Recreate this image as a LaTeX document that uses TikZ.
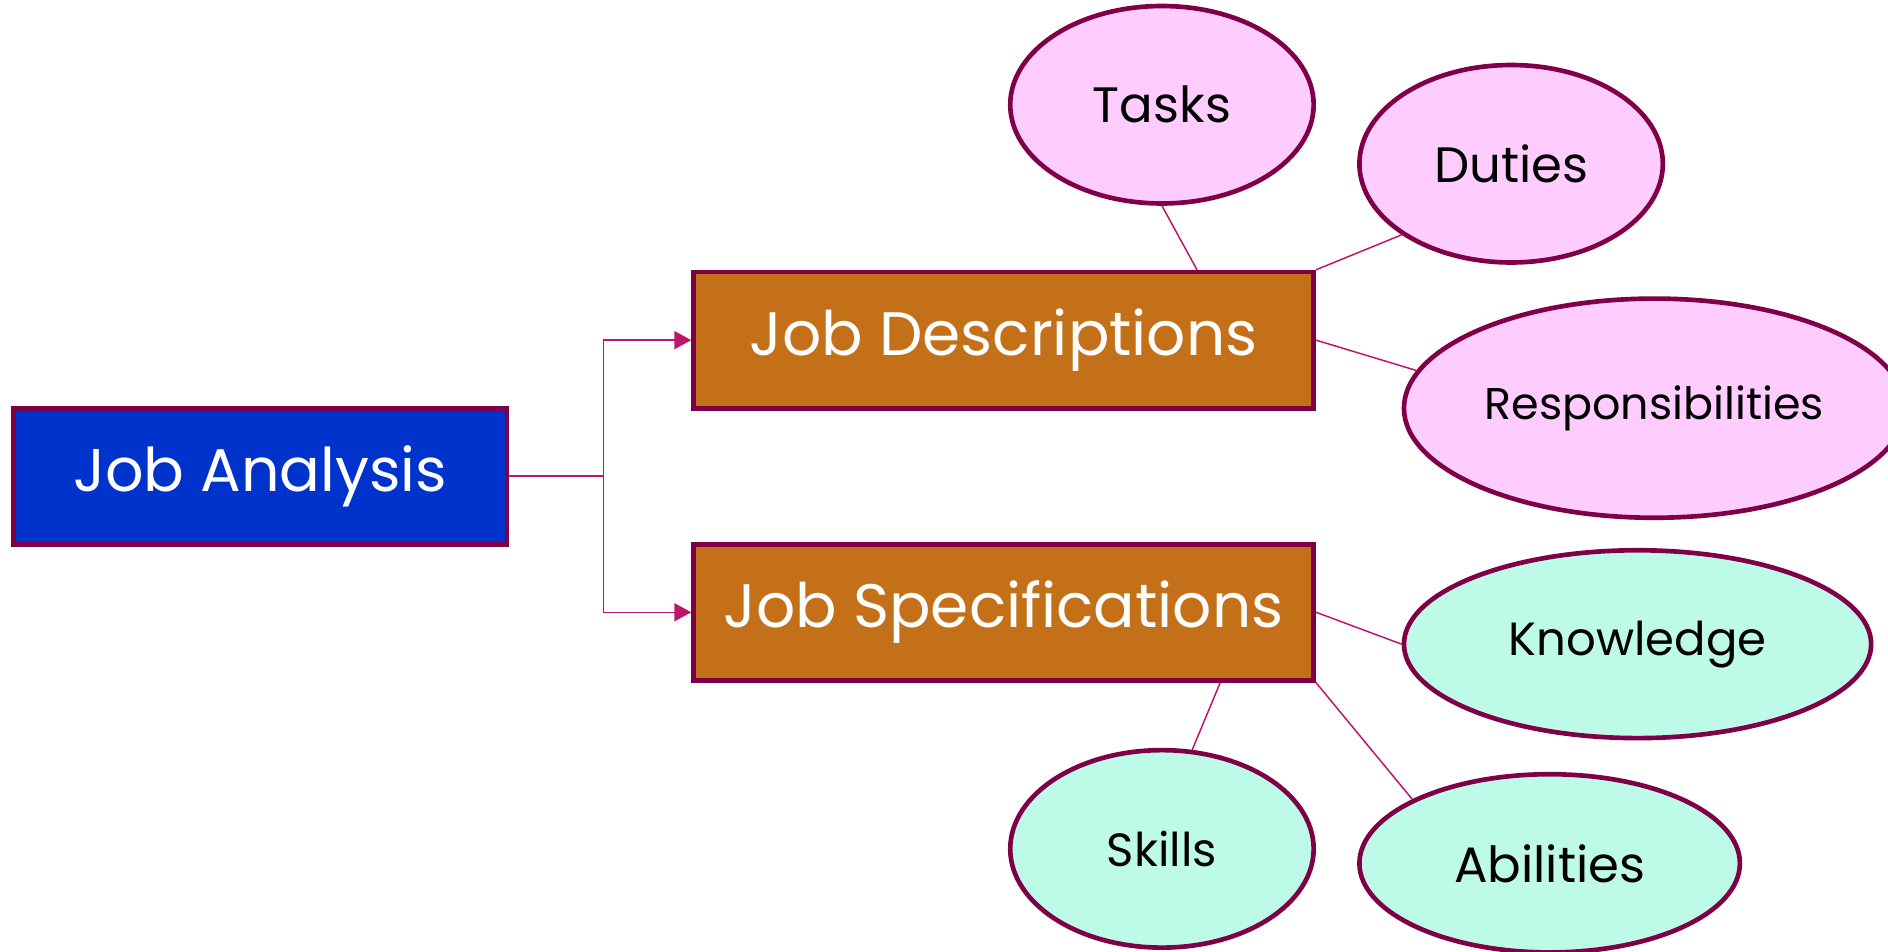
\documentclass[tikz,border=0pt]{standalone}
\usepackage{fontspec}
\setmainfont{Poppins}
\usepackage{tikz}
\usetikzlibrary{shapes.geometric, arrows.meta}
\definecolor{edge}{RGB}{128,0,72}
\definecolor{link}{RGB}{190,20,110}
\definecolor{jablue}{RGB}{0,51,204}
\definecolor{jdbrown}{RGB}{196,112,24}
\definecolor{pinkfill}{RGB}{255,204,255}
\definecolor{mintfill}{RGB}{190,250,232}
\tikzstyle{topbox} = [rectangle, draw=edge, line width=2.2pt, fill=jablue, text=white, inner sep=0pt, minimum width=8.2cm, minimum height=2.26cm, font=\fontsize{28.5}{34}\selectfont]
\tikzstyle{subbox} = [rectangle, draw=edge, line width=2.2pt, fill=jdbrown, text=white, inner sep=0pt, minimum width=10.3cm, minimum height=2.26cm, font=\fontsize{29}{34}\selectfont]
\tikzstyle{duty} = [ellipse, draw=edge, line width=2.2pt, fill=pinkfill, inner sep=0pt, font=\fontsize{23.5}{28}\selectfont]
\tikzstyle{trait} = [ellipse, draw=edge, line width=2.2pt, fill=mintfill, inner sep=0pt, font=\fontsize{23.5}{28}\selectfont]
\tikzstyle{link} = [draw=link, line width=0.7pt]
\tikzstyle{arrow} = [link, -{Triangle[length=0.28cm, width=0.3cm]}]

\begin{document}
\begin{tikzpicture}
\useasboundingbox (0,0) rectangle (31.36,-15.8);

\node (ja) [topbox] at (4.32,-7.91) {Job Analysis};
\node (jd) [subbox] at (16.67,-5.65) {Job Descriptions};
\node (js) [subbox] at (16.67,-10.17) {Job Specifications};

\node (tasks) [duty, minimum width=5.04cm, minimum height=3.28cm] at (19.3,-1.74) {Tasks};
\node (duties) [duty, minimum width=5.04cm, minimum height=3.28cm] at (25.1,-2.72) {Duties};
\node (resp) [duty, minimum width=8.32cm, minimum height=3.64cm, font=\fontsize{21}{25}\selectfont] at (27.48,-6.78) {Responsibilities};
\node (know) [trait, minimum width=7.76cm, minimum height=3.12cm, font=\fontsize{22}{26}\selectfont] at (27.2,-10.7) {Knowledge};
\node (skills) [trait, minimum width=5.04cm, minimum height=3.28cm, font=\fontsize{22}{26}\selectfont] at (19.3,-14.1) {Skills};
\node (abil) [trait, minimum width=6.32cm, minimum height=2.96cm] at (25.74,-14.34) {Abilities};

\coordinate (split) at (10.02,-7.91);

\draw [link] (ja.east) -- (split);
\draw [arrow] (split) |- (jd.west);
\draw [arrow] (split) |- (js.west);

\draw [link] (tasks.south) -- (jd.20);
\draw [link] (duties.213) -- (jd.north east);
\draw [link] (jd.east) -- (resp.171);
\draw [link] (js.east) -- (know.west);
\draw [link] (js.-18) -- (skills.73);
\draw [link] (js.south east) -- (abil.155);

\end{tikzpicture}
\end{document}
